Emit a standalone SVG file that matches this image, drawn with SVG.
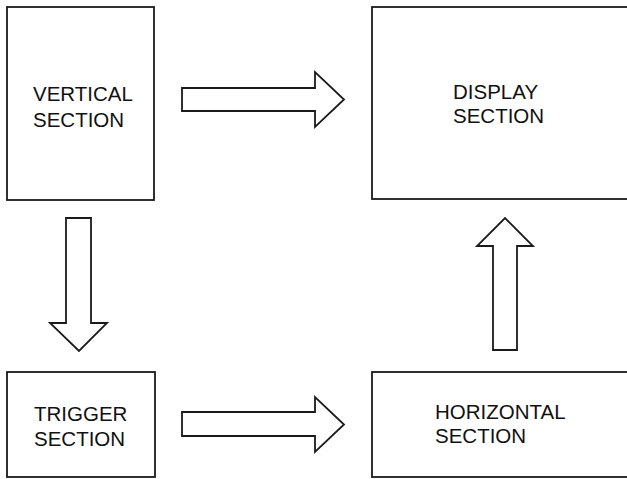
<svg xmlns="http://www.w3.org/2000/svg" width="627" height="479" viewBox="0 0 627 479">
<style>
.box{fill:#fff;stroke:#1a1a1a;stroke-width:1.8}
.arr{fill:#fff;stroke:#1a1a1a;stroke-width:1.8;stroke-linejoin:miter}
text{font-family:"Liberation Sans",Arial,sans-serif;font-size:20.5px;fill:#111}
</style>
<rect width="627" height="479" fill="#fff"/>
<g id="vertical">
<rect class="box" x="7" y="7" width="147" height="193"/>
<text x="33" y="101">VERTICAL</text>
<text x="33" y="127">SECTION</text>
</g>
<g id="display">
<rect class="box" x="372" y="7" width="270" height="192"/>
<text x="453" y="99">DISPLAY</text>
<text x="453" y="123">SECTION</text>
</g>
<g id="trigger">
<rect class="box" x="7" y="372" width="148" height="105"/>
<text x="34" y="421">TRIGGER</text>
<text x="34" y="446">SECTION</text>
</g>
<g id="horizontal">
<rect class="box" x="372" y="372" width="270" height="105"/>
<text x="435" y="419">HORIZONTAL</text>
<text x="435" y="443">SECTION</text>
</g>
<g id="connectors">
<polygon class="arr" points="182,88 315,88 315,72 344,99.5 315,127 315,111 182,111"/>
<polygon class="arr" points="66,218 91,218 91,323 107,323 79,351 50,323 66,323"/>
<polygon class="arr" points="182,412 315,412 315,397 344,424.5 315,452 315,436 182,436"/>
<polygon class="arr" points="493,350 517,350 517,246 533,246 505,218 477,246 493,246"/>
</g>
</svg>
